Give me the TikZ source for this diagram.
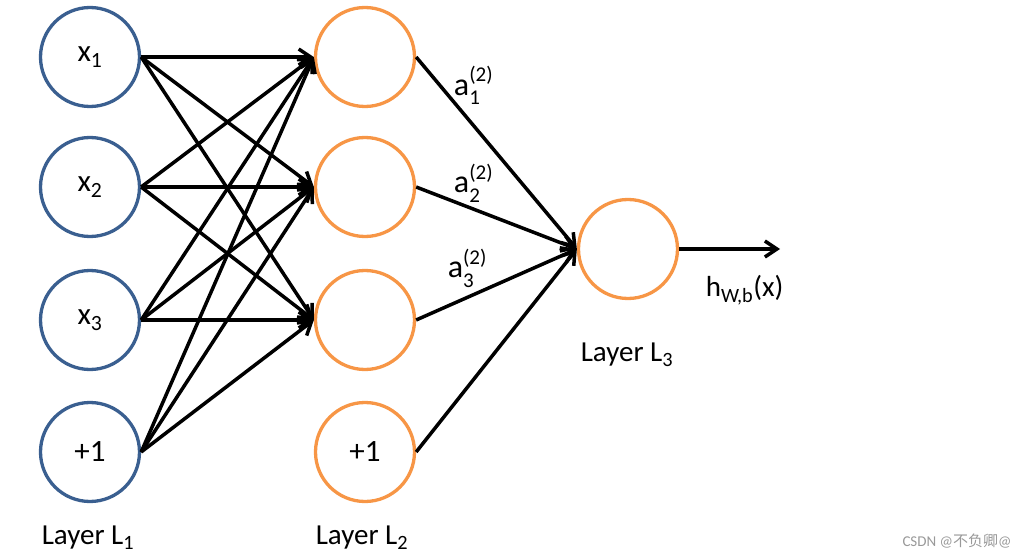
\documentclass[tikz,border=0pt]{standalone}
\usepackage{fontspec}
\setmainfont{Carlito}
\newfontfamily\cjkfont{Noto Sans CJK SC}
\usepackage{tikz}
\usetikzlibrary{arrows.meta,calc,positioning}
\definecolor{inblue}{HTML}{3A5F90}
\definecolor{hidorange}{HTML}{F79646}
\newcommand{\scr}[1]{{\fontsize{21}{21}\selectfont #1}}
\newcommand{\lbla}[1]{a\makebox[0pt][l]{\raisebox{0.42em}{\scr{(2)}}}\raisebox{-0.3em}{\scr{#1}}}

\begin{document}
\begin{tikzpicture}[
    x=1pt, y=-1pt,
    >={Straight Barb[length=12pt,width=16pt]},
    conn/.style={line width=3.5pt},
    unit/.style={draw,circle,line width=3.3pt,minimum size=99pt,inner sep=0pt,font=\fontsize{31}{34}\selectfont},
    inunit/.style={unit,draw=inblue},
    hidunit/.style={unit,draw=hidorange},
    note/.style={font=\fontsize{29}{32}\selectfont,inner sep=1pt},
    wlabel/.style={font=\fontsize{32}{34}\selectfont,inner sep=1pt}
]
\useasboundingbox (0,0) rectangle (1034,559);

% --- Input layer ---
\node[inunit] (x1) at (90,57)  {x\textsubscript{1}};
\node[inunit] (x2) at (90,187) {x\textsubscript{2}};
\node[inunit] (x3) at (90,320) {x\textsubscript{3}};
\node[inunit] (b1) at (90,452) {+1};

% --- Hidden layer ---
\node[hidunit] (h1) at (365,57)  {};
\node[hidunit] (h2) at (365,187) {};
\node[hidunit] (h3) at (365,320) {};
\node[hidunit] (b2) at (365,452) {+1};

% --- Output layer ---
\node[hidunit] (out) at (628,249) {};
\coordinate (hx) at (780,249);

% --- Weights L1 -> L2 ---
\foreach \src in {x1,x2,x3,b1}
  \foreach \dst in {h1,h2,h3}
    \draw[conn,->] (\src.east) -- (\dst.west);

% --- Weights L2 -> L3 ---
\draw[conn,->] (h1.east) -- (out.west) node[pos=.31,xshift=1pt,yshift=31pt,wlabel] {\lbla{1}};
\draw[conn,->] (h2.east) -- (out.west) node[pos=.31,xshift=1pt,yshift=23pt,wlabel] {\lbla{2}};
\draw[conn,->] (h3.east) -- (out.west) node[pos=.29,xshift=-2pt,yshift=31pt,wlabel] {\lbla{3}};
\draw[conn,->] (b2.east) -- (out.west);

% Output
\draw[conn,->] (out.east) -- (hx) node[pos=.65,yshift=-41pt,note] {h\textsubscript{W,b}(x)};

% Layer names
\node[note] (L1) at (88,538)  {Layer L\textsubscript{1}};
\node[note] (L2) at (362,538) {Layer L\textsubscript{2}};
\node[note] (L3) at (627,355) {Layer L\textsubscript{3}};

% watermark
\node[font=\fontsize{15}{17}\selectfont,text=black!40] (wm) at (957,541) {CSDN @{\cjkfont 不负卿}@};
\end{tikzpicture}
\end{document}
